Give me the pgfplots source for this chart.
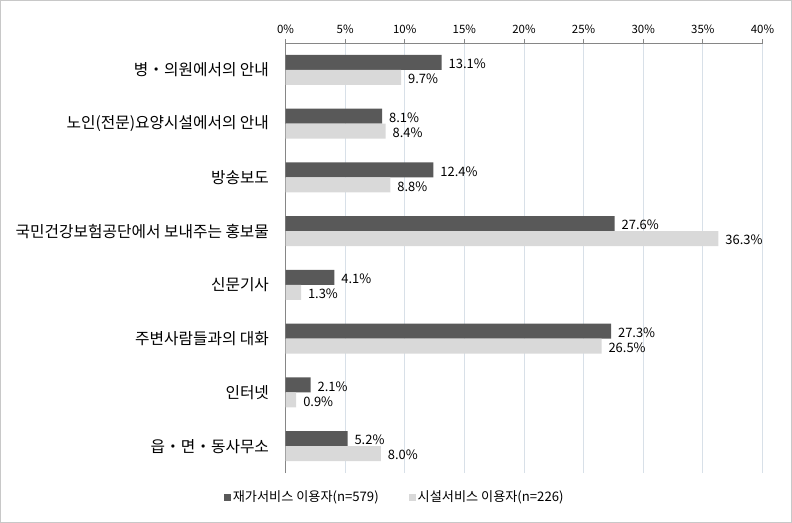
\documentclass[border=0pt]{standalone}
\usepackage{pgfplots}
\pgfplotsset{compat=1.18}
\usepackage{fontspec}
\setmainfont{Noto Sans CJK KR}
\definecolor{darkbar}{RGB}{89,89,89}
\definecolor{lightbar}{RGB}{217,217,217}
\definecolor{gridc}{RGB}{216,224,232}
\definecolor{axc}{RGB}{134,134,134}
\begin{document}
\begin{tikzpicture}
\path[use as bounding box] (0,0) rectangle (792bp,523bp);
\draw[color={rgb,255:red,200;green,200;blue,200},line width=1bp] (0.5bp,0.5bp) rectangle (791.5bp,522.5bp);
\begin{axis}[
  at={(285.5bp,50bp)}, anchor=south west,
  scale only axis, width=477bp, height=430bp,
  xmin=0, xmax=40, ymin=-0.5, ymax=7.5,
  axis x line*=top, axis y line*=left,
  axis line style={color=axc, line width=0.8bp},
  xtick={0,5,...,40},
  xticklabel={\pgfmathprintnumber{\tick}\%},
  /pgf/number format/assume math mode=true,
  xticklabel style={font=\fontsize{11.5}{13}\selectfont, yshift=2bp},
  xmajorgrids, grid style={color=gridc, line width=0.8bp},
  tick align=outside,
  major tick length=4bp,
  tick style={color=axc, line width=0.8bp},
  ytick={0,...,7},
  yticklabels={읍・면・동사무소,인터넷,주변사람들과의 대화,신문기사,국민건강보험공단에서 보내주는 홍보물,방송보도,노인(전문)요양시설에서의 안내,병・의원에서의 안내},
  yticklabel style={font=\fontsize{15.8}{18}\selectfont, xshift=-9bp},
  extra y ticks={-0.5,0.5,...,7.5},
  extra y tick labels={},
  extra y tick style={major tick length=5bp, tick style={color=axc}},
  ytick style={draw=none},
  xbar, bar width=15bp,
  nodes near coords={\pgfmathprintnumber[fixed,precision=1,fixed zerofill]{\pgfplotspointmeta}\%},
  nodes near coords style={font=\fontsize{13}{15}\selectfont, color=black, anchor=west, xshift=3.5bp, yshift=-1.5bp},
  legend style={draw=none, at={(0.229,-0.056)}, anchor=center, font=\fontsize{13.2}{15}\selectfont, legend columns=2, /tikz/every even column/.append style={column sep=28bp}},
  legend cell align=left,
]
\addplot[fill=darkbar, draw=none, bar shift=7.5bp,
  legend image code/.code={\fill[darkbar] (0bp,-3.5bp) rectangle (7bp,3.5bp);}]
  coordinates {(5.2,0) (2.1,1) (27.3,2) (4.1,3) (27.6,4) (12.4,5) (8.1,6) (13.1,7)};
\addlegendentry{재가서비스 이용자(n=579)}
\addplot[fill=lightbar, draw=none, bar shift=-7.5bp,
  legend image code/.code={\fill[lightbar] (0bp,-3.5bp) rectangle (7bp,3.5bp);}]
  coordinates {(8.0,0) (0.9,1) (26.5,2) (1.3,3) (36.3,4) (8.8,5) (8.4,6) (9.7,7)};
\addlegendentry{시설서비스 이용자(n=226)}
\end{axis}
\end{tikzpicture}
\end{document}
